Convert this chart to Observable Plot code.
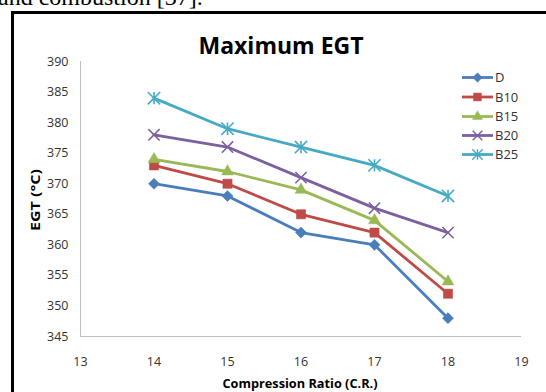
<!DOCTYPE html>
<html><head><meta charset="utf-8">
<script src="https://cdn.jsdelivr.net/npm/d3@7"></script>
<script src="https://cdn.jsdelivr.net/npm/@observablehq/plot@0.6"></script>
<style>
html,body{margin:0;padding:0;background:#fff;overflow:hidden}
#wrap{position:relative;width:546px;height:392px;overflow:hidden}
#wrap svg{position:absolute;left:0;top:0}
#frame{position:absolute;left:11px;top:11px;width:600px;height:500px;border-left:3px solid #000;border-top:3px solid #000}
#above{position:absolute;left:-2px;top:-15px;font:24px/24px "Liberation Serif",serif;color:#000;white-space:nowrap}
</style></head><body>
<div id="wrap"><div id="above">and combustion [37].</div><div id="frame"></div></div>
<script>
// ---- data ----
const ratios = [14, 15, 16, 17, 18];
const seriesNames = ["D", "B10", "B15", "B20", "B25"];
const D   = [370, 368, 362, 360, 348];
const B10 = [373, 370, 365, 362, 352];
const B15 = [374, 372, 369, 364, 354];
const B20 = [378, 376, 371, 366, 362];
const B25 = [384, 379, 376, 373, 368];
const xTicks = [13, 14, 15, 16, 17, 18, 19];
const yTicks = [345, 350, 355, 360, 365, 370, 375, 380, 385, 390];
const title = "Maximum EGT";
const xLabel = "Compression Ratio (C.R.)";
const yLabel = "EGT (°C)";

const values = [D, B10, B15, B20, B25];
const colors = ["#4A7EBB", "#BE4B48", "#98B954", "#7D60A0", "#46AAC5"];
const table = [];
seriesNames.forEach((s, i) => ratios.forEach((r, j) => table.push({series: s, cr: r, egt: values[i][j]})));

// Excel-like star: vertical line plus an X
const star = {
  draw(ctx, size) {
    const r = Math.sqrt(size) * 0.6;
    ctx.moveTo(0, -r); ctx.lineTo(0, r);
    ctx.moveTo(-r, -r); ctx.lineTo(r, r);
    ctx.moveTo(-r, r); ctx.lineTo(r, -r);
  }
};
const markerSpec = [
  {symbol: d3.symbolDiamond2, r: 5, filled: true},
  {symbol: d3.symbolSquare, r: 5.2, filled: true},
  {symbol: d3.symbolTriangle, r: 4.4, filled: true},
  {symbol: d3.symbolTimes, r: 5.2, filled: false},
  {symbol: star, r: 5.8, filled: false}
];

const marks = [
  Plot.ruleX([13], {stroke: "#bfbfbf", strokeWidth: 1}),
  Plot.ruleY([345], {stroke: "#bfbfbf", strokeWidth: 1}),
  Plot.axisX({ticks: xTicks, tickSize: 0, tickPadding: 21, label: null, tickFormat: d => String(d)}),
  Plot.axisY({ticks: yTicks, tickSize: 0, tickPadding: 12, label: null, tickFormat: d => String(d)})
];
seriesNames.forEach((s, i) => {
  const data = table.filter(d => d.series === s);
  marks.push(Plot.line(data, {x: "cr", y: "egt", stroke: colors[i], strokeWidth: 2.8, strokeLinejoin: "round"}));
  const m = markerSpec[i];
  marks.push(Plot.dot(data, m.filled
    ? {x: "cr", y: "egt", symbol: () => m.symbol, r: m.r, fill: colors[i], stroke: colors[i], strokeWidth: 0.5}
    : {x: "cr", y: "egt", symbol: () => m.symbol, r: m.r, fill: "none", stroke: colors[i], strokeWidth: 1.6}));
});

const chart = Plot.plot({
  width: 546, height: 392,
  marginLeft: 80, marginRight: 25, marginTop: 61, marginBottom: 56,
  x: {domain: [13, 19]},
  y: {domain: [345, 390]},
  symbol: {type: "identity"},
  style: {fontFamily: "Open Sans, sans-serif", fontSize: "12.5px", color: "#333", background: "transparent", overflow: "visible"},
  marks
});
document.getElementById("wrap").appendChild(chart);

const svg = d3.select(chart);
svg.append("text").attr("x", 281).attr("y", 54).attr("text-anchor", "middle")
  .attr("font-family", "Open Sans, sans-serif").attr("font-weight", 700).attr("font-size", 23)
  .attr("fill", "#000").text(title);
svg.append("text").attr("x", 300).attr("y", 388).attr("text-anchor", "middle")
  .attr("font-family", "Open Sans, sans-serif").attr("font-weight", 700).attr("font-size", 12)
  .attr("textLength", 155).attr("lengthAdjust", "spacingAndGlyphs")
  .attr("fill", "#000").text(xLabel);
svg.append("text").attr("transform", "translate(39.5,200) rotate(-90)").attr("text-anchor", "middle")
  .attr("font-family", "Open Sans, sans-serif").attr("font-weight", 700).attr("font-size", 13)
  .attr("textLength", 62).attr("lengthAdjust", "spacingAndGlyphs")
  .attr("fill", "#000").text(yLabel);

// legend
const legendY = [77.5, 97, 116.5, 135.5, 154.5];
const lg = svg.append("g");
seriesNames.forEach((s, i) => {
  const y = legendY[i];
  lg.append("line").attr("x1", 462).attr("x2", 493).attr("y1", y).attr("y2", y)
    .attr("stroke", colors[i]).attr("stroke-width", 2.8);
  const m = markerSpec[i];
  const size = Math.PI * (m.r * 0.85) ** 2;
  lg.append("path").attr("transform", `translate(477.5,${y})`)
    .attr("d", d3.symbol(m.symbol, size)())
    .attr("fill", m.filled ? colors[i] : "none").attr("stroke", colors[i]).attr("stroke-width", m.filled ? 0.5 : 1.4);
  lg.append("text").attr("x", 495).attr("y", y + 4.6).attr("text-anchor", "start")
    .attr("font-family", "Open Sans, sans-serif").attr("font-size", 13).attr("fill", "#333").text(s);
});
</script>
</body></html>
